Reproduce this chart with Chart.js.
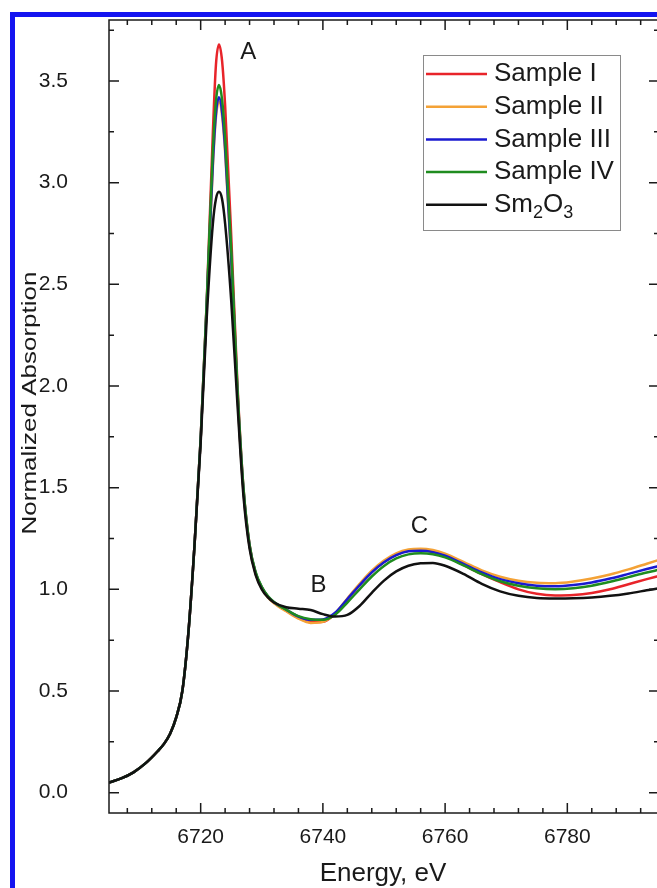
<!DOCTYPE html>
<html>
<head>
<meta charset="utf-8">
<script src="https://cdn.jsdelivr.net/npm/chart.js@4.4.0/dist/chart.umd.min.js"></script>
<style>
  html, body { margin: 0; padding: 0; background: #fff; overflow: hidden; }
  #frame { position: absolute; left: 10px; top: 12px; width: 720px; height: 920px; border: 5px solid #1414f0; box-sizing: border-box; }
  #wrap { position: absolute; left: 0; top: 0; width: 700px; height: 888px; }
</style>
</head>
<body>
<div id="frame"></div>
<div id="wrap"><canvas id="myChart" width="700" height="888"></canvas></div>
<script>
// Datos
const energy = [6705, 6707, 6709, 6711, 6713, 6714, 6715, 6716, 6717, 6718, 6719, 6720, 6721,
  6722, 6722.5, 6723, 6723.5, 6724, 6725, 6726, 6727, 6728, 6729, 6730, 6731, 6732, 6734, 6736,
  6738, 6740, 6742, 6744, 6746, 6748, 6750, 6752, 6754, 6756, 6758, 6760, 6763, 6766, 6769,
  6772, 6775, 6778, 6781, 6784, 6787, 6790, 6793, 6795];

const sampleI = [0.05, 0.07, 0.10, 0.145, 0.205, 0.24, 0.29, 0.37, 0.50, 0.79, 1.22, 1.74, 2.42,
  3.25, 3.58, 3.68, 3.60, 3.38, 2.74, 2.02, 1.50, 1.22, 1.08, 1.01, 0.965, 0.935, 0.895, 0.86,
  0.838, 0.84, 0.88, 0.95, 1.02, 1.085, 1.135, 1.17, 1.19, 1.193, 1.185, 1.165, 1.12, 1.075, 1.035,
  1.0, 0.978, 0.97, 0.972, 0.982, 1.0, 1.025, 1.05, 1.066];

const sampleII = [0.05, 0.07, 0.10, 0.145, 0.205, 0.24, 0.29, 0.37, 0.50, 0.79, 1.22, 1.74, 2.40,
  3.08, 3.32, 3.40, 3.33, 3.15, 2.62, 1.97, 1.48, 1.21, 1.075, 1.005, 0.96, 0.932, 0.892, 0.856,
  0.835, 0.84, 0.882, 0.955, 1.027, 1.092, 1.142, 1.177, 1.196, 1.2, 1.193, 1.175, 1.135, 1.093, 1.062,
  1.042, 1.032, 1.03, 1.038, 1.053, 1.073, 1.098, 1.126, 1.145];

const sampleIII = [0.05, 0.07, 0.10, 0.145, 0.205, 0.24, 0.29, 0.37, 0.50, 0.79, 1.22, 1.74, 2.41,
  3.10, 3.34, 3.42, 3.35, 3.17, 2.63, 1.98, 1.49, 1.215, 1.08, 1.01, 0.965, 0.937, 0.90, 0.866,
  0.85, 0.852, 0.885, 0.952, 1.02, 1.083, 1.133, 1.168, 1.187, 1.19, 1.183, 1.165, 1.125, 1.083, 1.05,
  1.03, 1.018, 1.015, 1.021, 1.034, 1.053, 1.076, 1.10, 1.115];

const sampleIV = [0.05, 0.07, 0.10, 0.145, 0.205, 0.24, 0.29, 0.37, 0.50, 0.79, 1.22, 1.74, 2.42,
  3.16, 3.40, 3.48, 3.41, 3.22, 2.67, 2.00, 1.50, 1.22, 1.085, 1.012, 0.967, 0.938, 0.90, 0.868,
  0.853, 0.85, 0.875, 0.935, 1.0, 1.063, 1.115, 1.152, 1.172, 1.178, 1.173, 1.157, 1.118, 1.075, 1.04,
  1.018, 1.005, 1.0, 1.005, 1.018, 1.037, 1.06, 1.083, 1.096];

const sm2o3 = [0.05, 0.07, 0.10, 0.145, 0.205, 0.24, 0.29, 0.37, 0.50, 0.79, 1.22, 1.72, 2.34,
  2.80, 2.92, 2.955, 2.92, 2.80, 2.42, 1.92, 1.46, 1.20, 1.07, 1.0, 0.96, 0.935, 0.912, 0.905,
  0.898, 0.878, 0.866, 0.874, 0.918, 0.983, 1.043, 1.088, 1.116, 1.128, 1.13, 1.116, 1.076, 1.027, 0.99,
  0.968, 0.957, 0.955, 0.956, 0.96, 0.968, 0.98, 0.995, 1.005];

const seriesNames = ['Sample I', 'Sample II', 'Sample III', 'Sample IV', 'Sm2O3'];
const seriesValues = [sampleI, sampleII, sampleIII, sampleIV, sm2o3];
const seriesColors = ['#e8242a', '#f4a236', '#1a1ad0', '#1f8c1f', '#111111'];

const xTicks = [6720, 6740, 6760, 6780];
const yTicks = [0.0, 0.5, 1.0, 1.5, 2.0, 2.5, 3.0, 3.5];

// Letras de los picos (energia, absorcion)
const peakLabels = ['A', 'B', 'C'];
const peakX = [6727.8, 6739.3, 6755.8];
const peakY = [3.64, 1.02, 1.31];

const FONT = "'Liberation Sans', Arial, sans-serif";

// Texto con subindices (Sm2O3)
function drawRich(ctx, text, x, y, size) {
  let cx = x;
  for (const ch of text) {
    if (/[0-9]/.test(ch)) {
      ctx.font = Math.round(size * 0.68) + 'px ' + FONT;
      ctx.fillText(ch, cx, y + size * 0.32);
    } else {
      ctx.font = size + 'px ' + FONT;
      ctx.fillText(ch, cx, y);
    }
    cx += ctx.measureText(ch).width;
  }
}

const decor = {
  id: 'decor',
  afterDraw(chart) {
    const ctx = chart.ctx;
    const a = chart.chartArea;
    const x = chart.scales.x;
    const y = chart.scales.y;
    ctx.save();

    // marco y marcas hacia dentro
    ctx.strokeStyle = '#1a1a1a';
    ctx.lineWidth = 1.5;
    ctx.strokeRect(a.left, a.top, a.right - a.left, a.bottom - a.top);
    ctx.beginPath();
    for (let v = 6708; v <= 6792; v += 4) {
      const px = x.getPixelForValue(v);
      const len = v % 20 === 0 ? 10 : 5;
      ctx.moveTo(px, a.bottom); ctx.lineTo(px, a.bottom - len);
      ctx.moveTo(px, a.top); ctx.lineTo(px, a.top + len);
    }
    for (let i = 0; i <= 15; i++) {
      const v = i * 0.25;
      const py = y.getPixelForValue(v);
      const len = i % 2 === 0 ? 10 : 5;
      ctx.moveTo(a.left, py); ctx.lineTo(a.left + len, py);
      ctx.moveTo(a.right, py); ctx.lineTo(a.right - len, py);
    }
    ctx.stroke();

    // titulos de ejes
    ctx.fillStyle = '#1a1a1a';
    ctx.font = '26px ' + FONT;
    ctx.textAlign = 'center';
    ctx.textBaseline = 'alphabetic';
    ctx.fillText('Energy, eV', (a.left + a.right) / 2 - 1, 881);
    ctx.save();
    ctx.translate(35.5, 403);
    ctx.rotate(-Math.PI / 2);
    ctx.scale(1, 0.75);
    ctx.fillText('Normalized Absorption', 0, 0);
    ctx.restore();

    // letras A, B, C
    ctx.font = '24px ' + FONT;
    ctx.textBaseline = 'middle';
    peakLabels.forEach((t, i) => {
      ctx.fillText(t, x.getPixelForValue(peakX[i]), y.getPixelForValue(peakY[i]));
    });

    // leyenda
    const lx = 423, ly = 55, lw = 197, lh = 175;
    ctx.fillStyle = '#fff';
    ctx.fillRect(lx, ly, lw, lh);
    ctx.strokeStyle = '#8a8a8a';
    ctx.lineWidth = 1;
    ctx.strokeRect(lx + 0.5, ly + 0.5, lw, lh);
    ctx.textAlign = 'left';
    ctx.textBaseline = 'middle';
    chart.data.datasets.forEach((ds, i) => {
      const ry = 74 + i * 32.7;
      ctx.strokeStyle = ds.borderColor;
      ctx.lineWidth = 2.5;
      ctx.beginPath();
      ctx.moveTo(lx + 3, ry); ctx.lineTo(lx + 64, ry);
      ctx.stroke();
      ctx.fillStyle = '#1a1a1a';
      drawRich(ctx, ds.label, lx + 71, ry, 26);
    });
    ctx.restore();
  }
};

const ctx = document.getElementById('myChart');
new Chart(ctx, {
  type: 'line',
  data: {
    datasets: seriesNames.map((name, i) => ({
      label: name,
      data: energy.map((e, k) => ({ x: e, y: seriesValues[i][k] })),
      borderColor: seriesColors[i],
      borderWidth: 2.5,
      pointRadius: 0,
      fill: false,
      cubicInterpolationMode: 'monotone',
      order: seriesNames.length - i
    }))
  },
  options: {
    responsive: false,
    animation: false,
    devicePixelRatio: 1,
    layout: { padding: { top: 20, right: 41, left: 0, bottom: 0 } },
    plugins: { legend: { display: false }, tooltip: { enabled: false } },
    scales: {
      x: {
        type: 'linear',
        min: 6705,
        max: 6795,
        afterBuildTicks: s => { s.ticks = xTicks.map(v => ({ value: v })); },
        afterFit: s => { s.height = 75; s.paddingLeft = 0; s.paddingRight = 0; },
        grid: { display: false, drawTicks: false },
        border: { display: false },
        ticks: {
          font: { family: FONT, size: 21 }, color: '#1a1a1a', padding: 12, maxRotation: 0, autoSkip: false,
          callback: v => String(v)
        }
      },
      y: {
        min: -0.1,
        max: 3.8,
        afterBuildTicks: s => { s.ticks = yTicks.map(v => ({ value: v })); },
        afterFit: s => { s.width = 109; s.paddingTop = 0; s.paddingBottom = 0; },
        grid: { display: false, drawTicks: false },
        border: { display: false },
        ticks: {
          font: { family: FONT, size: 21 }, color: '#1a1a1a', padding: 41,
          callback: v => v.toFixed(1)
        }
      }
    }
  },
  plugins: [decor]
});
</script>
</body>
</html>
